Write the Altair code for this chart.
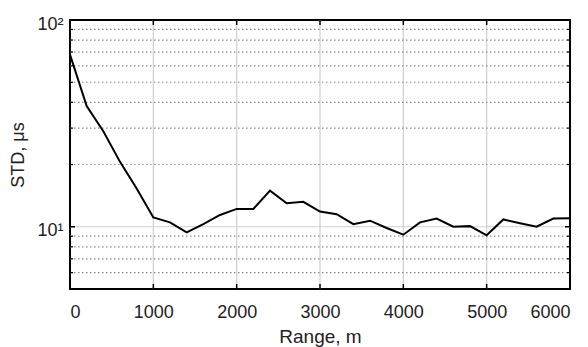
import altair as alt
import pandas as pd

range_m = [0, 200, 400, 600, 800, 1000, 1200, 1400, 1600, 1800, 2000, 2200, 2400,
           2600, 2800, 3000, 3200, 3400, 3600, 3800, 4000, 4200, 4400, 4600, 4800,
           5000, 5200, 5400, 5600, 5800, 6000]
std_us = [68, 38.3, 29.0, 20.6, 15.3, 11.1, 10.5, 9.4, 10.3, 11.4, 12.2, 12.2, 14.95,
          13.0, 13.2, 11.85, 11.5, 10.3, 10.7, 9.86, 9.15, 10.5, 10.95, 10.0, 10.07,
          9.09, 10.85, 10.4, 10.0, 10.95, 11.0]

x_ticks = [0, 1000, 2000, 3000, 4000, 5000, 6000]
x_grid = [1000, 2000, 3000, 4000, 5000]
y_major = [10]
y_minor = [6, 7, 8, 9, 20, 30, 40, 50, 60, 70, 80, 90]

W, H = 500, 269
FONT = "Liberation Sans"

xs = alt.Scale(domain=[0, 6000], nice=False, zero=False)
ys = alt.Scale(type="log", domain=[5, 100], nice=False)

df = pd.DataFrame({"x": range_m, "y": std_us})
gx = pd.DataFrame({"x": x_grid})
gmaj = pd.DataFrame({"y": y_major})
gmin = pd.DataFrame({"y": y_minor})

xgrid = alt.Chart(gx).mark_rule(color="#cfcfcf", strokeWidth=1.2).encode(
    x=alt.X("x:Q", scale=xs), y=alt.value(0), y2=alt.value(H))
ymaj = alt.Chart(gmaj).mark_rule(color="#cfcfcf", strokeWidth=1.2).encode(
    y=alt.Y("y:Q", scale=ys), x=alt.value(0), x2=alt.value(W))
ymin = alt.Chart(gmin).mark_rule(color="#8a8a8a", strokeWidth=1.2, strokeDash=[1.5, 2.5]).encode(
    y=alt.Y("y:Q", scale=ys), x=alt.value(0), x2=alt.value(W))

# inward ticks
xt_bot = alt.Chart(gx).mark_rule(color="black", strokeWidth=1.5).encode(
    x=alt.X("x:Q", scale=xs), y=alt.value(H), y2=alt.value(H - 5))
xt_top = alt.Chart(gx).mark_rule(color="black", strokeWidth=1.5).encode(
    x=alt.X("x:Q", scale=xs), y=alt.value(0), y2=alt.value(5))
yt_l = alt.Chart(gmaj).mark_rule(color="black", strokeWidth=1.5).encode(
    y=alt.Y("y:Q", scale=ys), x=alt.value(0), x2=alt.value(5))
yt_r = alt.Chart(gmaj).mark_rule(color="black", strokeWidth=1.5).encode(
    y=alt.Y("y:Q", scale=ys), x=alt.value(W), x2=alt.value(W - 5))
ym_l = alt.Chart(gmin).mark_rule(color="black", strokeWidth=1.2).encode(
    y=alt.Y("y:Q", scale=ys), x=alt.value(0), x2=alt.value(3))
ym_r = alt.Chart(gmin).mark_rule(color="black", strokeWidth=1.2).encode(
    y=alt.Y("y:Q", scale=ys), x=alt.value(W), x2=alt.value(W - 3))

line = alt.Chart(df).mark_line(color="black", strokeWidth=2).encode(
    x=alt.X("x:Q", scale=xs, title="Range, m",
            axis=alt.Axis(values=x_ticks, grid=False, ticks=False, domain=False,
                          labelPadding=14, titlePadding=6, format="d",
                          labelFontSize=18, titleFontSize=19, labelFont=FONT,
                          titleFont=FONT, labelColor="#222", titleColor="#222",
                          titleFontWeight="normal")),
    y=alt.Y("y:Q", scale=ys, title="STD, μs",
            axis=alt.Axis(values=[10, 100], grid=False, ticks=False, domain=False,
                          labelExpr="datum.value == 10 ? '10¹' : '10²'",
                          labelPadding=7, labelOffset=4, titlePadding=9,
                          labelFontSize=18, titleFontSize=18, labelFont=FONT,
                          titleFont=FONT, labelColor="#222", titleColor="#222",
                          titleFontWeight="normal")),
)

chart = alt.layer(xgrid, ymaj, ymin, xt_bot, xt_top, yt_l, yt_r, ym_l, ym_r, line).properties(
    width=W, height=H,
    autosize=alt.AutoSizeParams(type="none"),
    padding={"left": 62, "top": 12, "right": 10, "bottom": 58},
).configure_view(stroke="black", strokeWidth=2)

chart.save("out.html", embed_options={"renderer": "svg", "actions": False})
